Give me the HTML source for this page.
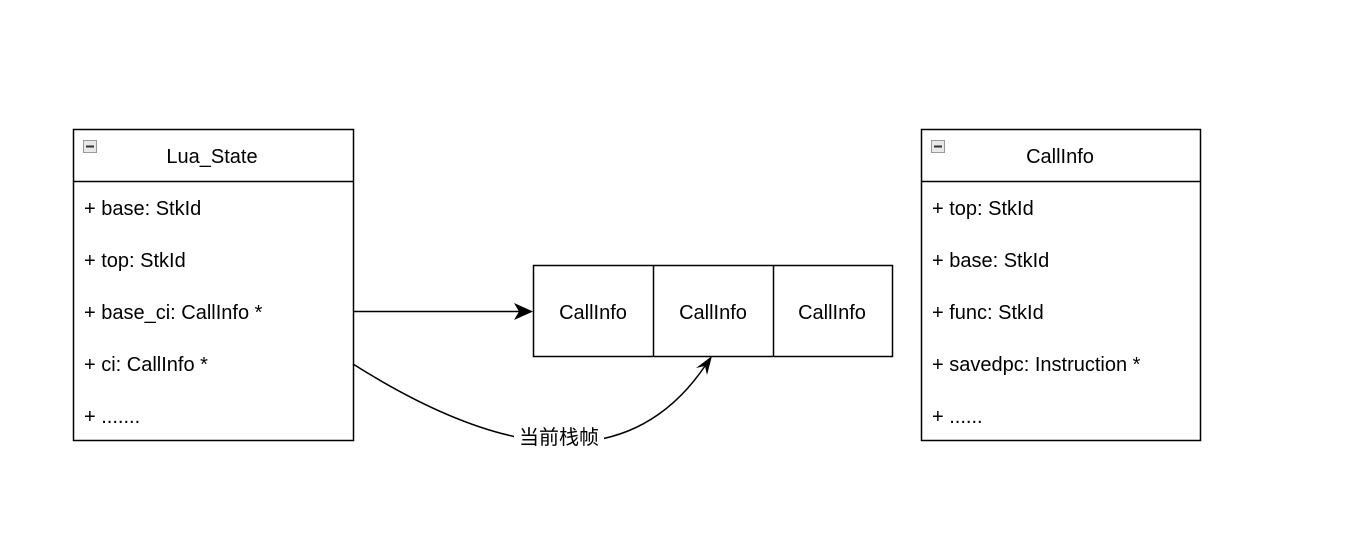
<!DOCTYPE html>
<html><head><meta charset="utf-8"><style>
html,body{margin:0;padding:0;background:#fff;}
svg text{font-family:"Liberation Sans","Noto Sans CJK SC",sans-serif;font-size:20px;fill:#000;}
</style></head><body>
<svg width="1362" height="546" viewBox="0 0 1362 546" xmlns="http://www.w3.org/2000/svg">
<rect width="1362" height="546" fill="#fff"/>
<!-- Lua_State -->
<rect x="73.5" y="129.5" width="280" height="311" fill="#fff" stroke="#000" stroke-width="1.5"/>
<line x1="73" y1="181.5" x2="353" y2="181.5" stroke="#000" stroke-width="1.5"/>
<rect x="83.5" y="140.5" width="13" height="12" fill="#e8e8e8" stroke="#999"/>
<line x1="86" y1="146.5" x2="94" y2="146.5" stroke="#333" stroke-width="2"/>
<text x="212" y="163" text-anchor="middle">Lua_State</text>
<text x="84" y="215">+ base: StkId</text>
<text x="84" y="267">+ top: StkId</text>
<text x="84" y="319">+ base_ci: CallInfo *</text>
<text x="84" y="371">+ ci: CallInfo *</text>
<text x="84" y="423">+ .......</text>
<!-- CallInfo class -->
<rect x="921.5" y="129.5" width="279" height="311" fill="#fff" stroke="#000" stroke-width="1.5"/>
<line x1="921" y1="181.5" x2="1200" y2="181.5" stroke="#000" stroke-width="1.5"/>
<rect x="931.5" y="140.5" width="13" height="12" fill="#e8e8e8" stroke="#999"/>
<line x1="934" y1="146.5" x2="942" y2="146.5" stroke="#333" stroke-width="2"/>
<text x="1060" y="163" text-anchor="middle">CallInfo</text>
<text x="932" y="215">+ top: StkId</text>
<text x="932" y="267">+ base: StkId</text>
<text x="932" y="319">+ func: StkId</text>
<text x="932" y="371">+ savedpc: Instruction *</text>
<text x="932" y="423">+ ......</text>
<!-- array -->
<rect x="533.5" y="265.5" width="359" height="91" fill="#fff" stroke="#000" stroke-width="1.5"/>
<line x1="653.5" y1="265" x2="653.5" y2="357" stroke="#000" stroke-width="1.5"/>
<line x1="773.5" y1="265" x2="773.5" y2="357" stroke="#000" stroke-width="1.5"/>
<text x="593" y="319" text-anchor="middle">CallInfo</text>
<text x="713" y="319" text-anchor="middle">CallInfo</text>
<text x="832" y="319" text-anchor="middle">CallInfo</text>
<!-- arrows -->
<line x1="353" y1="311.5" x2="522" y2="311.5" stroke="#000" stroke-width="1.5"/>
<path d="M533,311.5 L514,303 L519,311.5 L514,320 Z" fill="#000"/>
<path d="M353,364 Q600,520 705,366" fill="none" stroke="#000" stroke-width="1.5"/>
<path d="M712,356 L696,368 L705,366 L707,375 Z" fill="#000"/>
<rect x="514" y="426" width="90" height="22" fill="#fff"/>
<text x="559" y="444" text-anchor="middle">当前栈帧</text>
</svg>
</body></html>
